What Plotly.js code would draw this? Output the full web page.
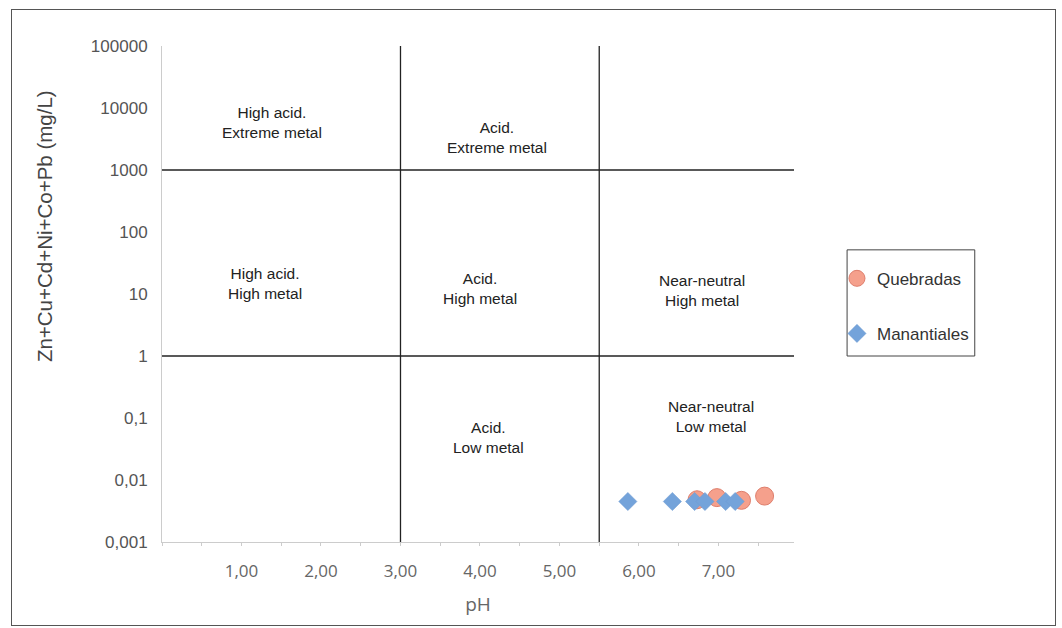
<!DOCTYPE html>
<html><head><meta charset="utf-8">
<script src="https://cdn.plot.ly/plotly-3.0.1.min.js"></script>
<style>
html,body{margin:0;padding:0;background:#fff;}
#frame{position:absolute;left:11px;top:9px;width:1045px;height:617px;border:1px solid #555;box-sizing:border-box;pointer-events:none;z-index:5;}
#chart{width:1062px;height:628px;}
</style></head>
<body>
<div id="frame"></div>
<div id="chart"></div>
<script>
// Data
const quebradasPH = [6.73, 6.98, 7.29, 7.58];
const quebradasMetal = [0.0048, 0.0052, 0.0047, 0.0055];
const manantialesPH = [5.86, 6.42, 6.70, 6.83, 7.09, 7.21];
const manantialesMetal = [0.0045, 0.0045, 0.0045, 0.0045, 0.0045, 0.0045];
const phBounds = [3.0, 5.5];
const metalBounds = [1000, 1];
const xTickVals = [1, 2, 3, 4, 5, 6, 7];
const xTickText = ["1,00", "2,00", "3,00", "4,00", "5,00", "6,00", "7,00"];
const yTickVals = [0.001, 0.01, 0.1, 1, 10, 100, 1000, 10000, 100000];
const yTickText = ["0,001", "0,01", "0,1", "1", "10", "100", "1000", "10000", "100000"];
const regionLabels = ["High acid.<br>Extreme metal", "Acid.<br>Extreme metal", "High acid.<br>High metal", "Acid.<br>High metal", "Near-neutral<br>High metal", "Acid.<br>Low metal", "Near-neutral<br>Low metal"];
const regionPH = [1.38, 4.21, 1.30, 4.00, 6.79, 4.11, 6.91];
const regionMetal = [5900, 3300, 14.8, 12.3, 11.2, 0.049, 0.107];
const yTitle = 'Zn+Cu+Cd+Ni+Co+Pb (mg/L)';

const xMax = 7.95, yMin = 0.001, yMax = 100000;
const lineEnd = 8.05;

const traces = [
  {x: quebradasPH, y: quebradasMetal, name: 'Quebradas', type: 'scatter', mode: 'markers', legendgroup: 'q',
   marker: {symbol: 'circle', size: 18, color: '#F5A08C', line: {color: '#DE7E6C', width: 1}}},
  {x: manantialesPH, y: manantialesMetal, name: 'Manantiales', type: 'scatter', mode: 'markers', legendgroup: 'm',
   marker: {symbol: 'diamond', size: 14, color: '#74A3DA', line: {color: '#6A98D0', width: 0.5}}}
];

const shapes = [];
phBounds.forEach(v => shapes.push({type: 'line', xref: 'x', yref: 'y', x0: v, x1: v, y0: yMin, y1: yMax, line: {color: '#222', width: 1.3}}));
metalBounds.forEach(v => shapes.push({type: 'line', xref: 'x', yref: 'y', x0: 0, x1: lineEnd, y0: v, y1: v, line: {color: '#222', width: 1.3}}));
// legend box
shapes.push({type: 'rect', xref: 'paper', yref: 'paper', x0: 1.084, x1: 1.286, y0: 0.375, y1: 0.589, line: {color: '#444', width: 1}, fillcolor: 'rgba(0,0,0,0)'});

const annotations = regionLabels.map((t, i) => ({
  x: regionPH[i], y: Math.log10(regionMetal[i]), xref: 'x', yref: 'y', text: t, showarrow: false,
  font: {family: 'Liberation Sans, Arial, sans-serif', size: 15.5, color: '#222'}, align: 'center'
}));
annotations.push({
  x: -0.208, y: 0.637, xref: 'paper', yref: 'paper', text: yTitle, showarrow: false, textangle: -90,
  font: {family: 'Liberation Sans, Arial, sans-serif', size: 20.5, color: '#444'}
});

const layout = {
  width: 1062, height: 628,
  margin: {l: 162, r: 268, t: 46, b: 86},
  paper_bgcolor: '#fff', plot_bgcolor: '#fff',
  showlegend: true,
  legend: {x: 1.068, y: 0.567, xanchor: 'left', yanchor: 'top', borderwidth: 0, bgcolor: 'rgba(0,0,0,0)',
    font: {family: 'Liberation Sans, Arial, sans-serif', size: 17, color: '#333'}, tracegroupgap: 30, itemwidth: 30},
  xaxis: {range: [0, xMax], tickvals: xTickVals, ticktext: xTickText, showgrid: false, zeroline: false,
    showline: true, linecolor: '#ccc', linewidth: 1, ticks: '', ticklabelstandoff: 14,
    minor: {dtick: 0.5, ticks: 'outside', ticklen: 3, tickcolor: '#ccc', showgrid: false},
    tickfont: {family: 'Open Sans, Liberation Sans, sans-serif', size: 17, color: '#666'},
    title: {text: 'pH', font: {family: 'Open Sans, Liberation Sans, sans-serif', size: 19, color: '#666'}, standoff: 16}},
  yaxis: {type: 'log', range: [-3, 5], tickvals: yTickVals, ticktext: yTickText, showgrid: false, zeroline: false,
    showline: true, linecolor: '#ccc', linewidth: 1, ticks: '', ticklabelstandoff: 10,
    tickfont: {family: 'Liberation Sans, Arial, sans-serif', size: 17, color: '#555'}},
  shapes: shapes,
  annotations: annotations
};

Plotly.newPlot('chart', traces, layout, {displayModeBar: false, staticPlot: true});
</script>
</body></html>
